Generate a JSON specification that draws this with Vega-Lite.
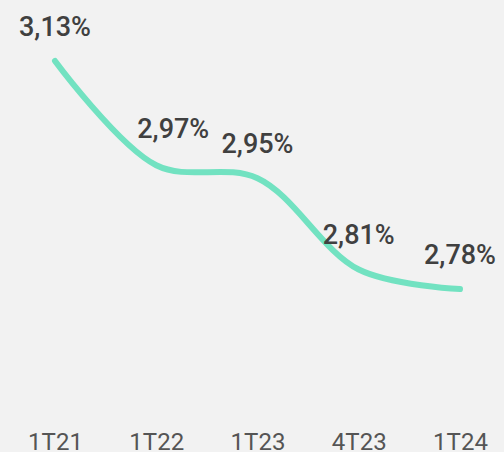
{
  "$schema": "https://vega.github.io/schema/vega-lite/v6.json",
  "width": 504,
  "height": 420,
  "autosize": "none",
  "padding": {"left": 0, "top": 0, "right": 0, "bottom": 32},
  "background": "#f2f2f2",
  "view": {"stroke": null},
  "data": {
    "values": [
      {"periodo": "1T21", "valor": 3.13, "rotulo": "3,13%"},
      {"periodo": "1T22", "valor": 2.97, "rotulo": "2,97%"},
      {"periodo": "1T23", "valor": 2.95, "rotulo": "2,95%"},
      {"periodo": "4T23", "valor": 2.81, "rotulo": "2,81%"},
      {"periodo": "1T24", "valor": 2.78, "rotulo": "2,78%"}
    ]
  },
  "encoding": {
    "x": {
      "field": "periodo",
      "type": "ordinal",
      "sort": null,
      "scale": {"type": "point", "range": [55, 460], "padding": 0},
      "axis": {
        "title": null,
        "domain": false,
        "ticks": false,
        "grid": false,
        "labelAngle": 0,
        "labelFont": "Roboto",
        "labelFontSize": 24,
        "labelColor": "#555555",
        "labelBaseline": "alphabetic",
        "labelPadding": 29
      }
    },
    "y": {
      "field": "valor",
      "type": "quantitative",
      "scale": {"domain": [2.579, 3.2236], "zero": false, "nice": false},
      "axis": null
    }
  },
  "layer": [
    {
      "mark": {
        "type": "line",
        "interpolate": "catmull-rom",
        "stroke": "#72e2c1",
        "strokeWidth": 6,
        "strokeCap": "round",
        "strokeJoin": "round"
      }
    },
    {
      "transform": [{"filter": "datum.periodo != '1T22'"}],
      "mark": {
        "type": "text",
        "font": "Roboto",
        "fontSize": 27,
        "fontWeight": 500,
        "fill": "#404040",
        "baseline": "alphabetic",
        "dy": -25
      },
      "encoding": {"text": {"field": "rotulo"}}
    },
    {
      "transform": [{"filter": "datum.periodo == '1T22'"}],
      "mark": {
        "type": "text",
        "font": "Roboto",
        "fontSize": 27,
        "fontWeight": 500,
        "fill": "#404040",
        "baseline": "alphabetic",
        "dy": -27,
        "dx": 17
      },
      "encoding": {"text": {"field": "rotulo"}}
    }
  ]
}
